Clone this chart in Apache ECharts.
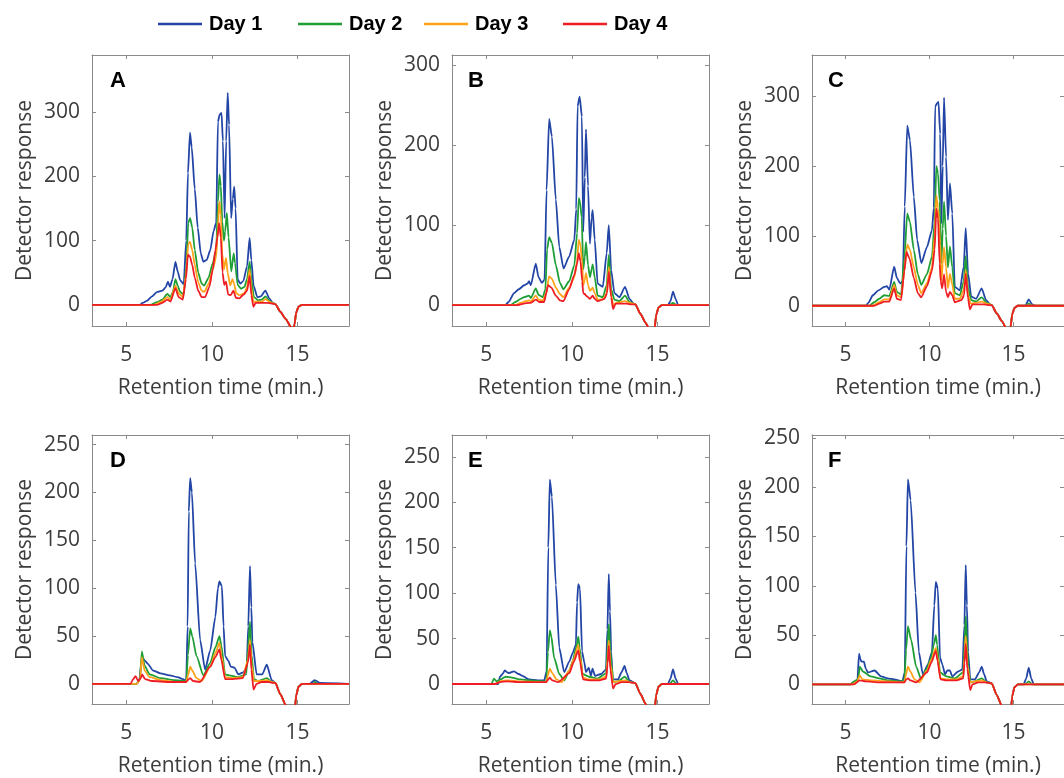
<!DOCTYPE html>
<html>
<head>
<meta charset="utf-8">
<script src="https://cdn.jsdelivr.net/npm/echarts@6/dist/echarts.min.js"></script>
<style>
html,body{margin:0;padding:0;background:#fff;}
#chart{width:1064px;height:778px;}
</style>
</head>
<body>
<div id="chart"></div>
<script>
// ---------------- DATA ----------------
const dayNames = ['Day 1', 'Day 2', 'Day 3', 'Day 4'];
const panelLetters = ['A', 'B', 'C', 'D', 'E', 'F'];
const xTicks = [5, 10, 15];
const yTicksTop = [0, 100, 200, 300];
const yTicksBottom = [0, 50, 100, 150, 200, 250];
const xRange = [3, 18];
const yRanges = [[-33, 389], [-26, 313], [-29, 359], [-21, 260], [-22, 274], [-20, 253]];

// Panel A
const a1 = [[3,0],[5.8,0],[5.95,3],[6.2,6],[6.5,13],[6.8,20],[7.1,22],[7.3,27],[7.43,36],[7.55,28],[7.7,40],[7.87,67],[8.0,52],[8.15,38],[8.35,32],[8.5,100],[8.6,205],[8.72,268],[8.82,245],[9.0,180],[9.17,120],[9.35,80],[9.5,67],[9.7,70],[9.9,85],[10.1,115],[10.25,128],[10.35,285],[10.45,296],[10.56,299],[10.64,255],[10.74,135],[10.83,255],[10.92,330],[11.0,280],[11.12,135],[11.22,165],[11.3,184],[11.38,150],[11.5,40],[11.65,33],[11.83,37],[12.05,60],[12.2,104],[12.3,70],[12.43,30],[12.65,12],[12.85,13],[13.12,22],[13.35,10],[13.55,3],[13.7,1],[14.0,-11],[14.3,-22],[14.6,-34],[14.75,-42],[14.82,-30],[14.92,-12],[15.05,-3],[15.25,0],[18,0]];
const a2 = [[3,0],[6.4,0],[6.8,4],[7.1,8],[7.4,17],[7.58,12],[7.72,20],[7.87,40],[8.0,30],[8.15,20],[8.35,16],[8.5,60],[8.62,128],[8.73,135],[8.85,120],[9.0,85],[9.2,50],[9.4,33],[9.55,30],[9.8,42],[10.05,65],[10.25,85],[10.35,160],[10.44,203],[10.52,185],[10.6,130],[10.7,100],[10.77,114],[10.87,143],[10.97,105],[11.13,52],[11.27,80],[11.35,65],[11.5,31],[11.7,25],[11.9,28],[12.05,40],[12.2,67],[12.3,40],[12.45,12],[12.7,7],[12.9,8],[13.12,13],[13.4,5],[13.6,2],[13.7,1],[14.0,-11],[14.3,-22],[14.6,-34],[14.75,-42],[14.82,-30],[14.92,-12],[15.05,-3],[15.25,0],[18,0]];
const a3 = [[3,0],[6.6,0],[7.0,4],[7.4,12],[7.58,8],[7.87,30],[8.05,18],[8.3,12],[8.48,45],[8.62,95],[8.72,98],[8.85,85],[9.0,62],[9.2,35],[9.4,22],[9.55,20],[9.8,32],[10.05,55],[10.25,75],[10.35,120],[10.43,161],[10.52,140],[10.6,80],[10.7,55],[10.82,73],[10.92,50],[11.06,30],[11.2,40],[11.3,32],[11.42,18],[11.6,15],[11.9,18],[12.05,28],[12.2,55],[12.3,25],[12.42,5],[12.6,5],[12.9,5],[13.12,9],[13.4,4],[13.6,2],[13.7,1],[14.0,-11],[14.3,-22],[14.6,-34],[14.75,-42],[14.82,-30],[14.92,-12],[15.05,-3],[15.25,0],[18,0]];
const a4 = [[3,0],[6.8,0],[7.1,3],[7.4,8],[7.58,5],[7.87,26],[8.05,12],[8.3,8],[8.48,40],[8.6,78],[8.72,75],[8.85,62],[9.0,42],[9.2,22],[9.4,12],[9.6,12],[9.85,28],[10.05,55],[10.2,85],[10.32,105],[10.42,127],[10.52,105],[10.62,50],[10.72,31],[10.82,36],[10.95,16],[11.1,15],[11.25,22],[11.4,11],[11.6,10],[11.85,16],[12.05,22],[12.2,45],[12.3,15],[12.42,-3],[12.55,3],[12.9,3],[13.2,3],[13.5,2],[13.7,1],[14.0,-11],[14.3,-22],[14.6,-34],[14.75,-42],[14.82,-30],[14.92,-12],[15.05,-3],[15.25,0],[18,0]];

// Panel B
const b1 = [[3,0],[6.1,0],[6.3,4],[6.62,15],[6.9,20],[7.21,25],[7.4,27],[7.5,30],[7.6,25],[7.89,52],[8.05,35],[8.25,28],[8.4,32],[8.52,144],[8.67,233],[8.83,211],[9.06,132],[9.26,73],[9.51,46],[9.84,61],[10.14,82],[10.25,120],[10.33,249],[10.45,261],[10.58,236],[10.66,92],[10.75,160],[10.82,220],[10.94,149],[11.05,77],[11.15,110],[11.21,119],[11.33,82],[11.5,27],[11.8,23],[12.03,65],[12.15,100],[12.29,44],[12.48,15],[12.77,10],[13.1,23],[13.36,8],[13.6,2],[13.7,1],[14.0,-11],[14.3,-22],[14.6,-34],[14.75,-42],[14.82,-30],[14.92,-12],[15.05,-3],[15.25,0],[15.6,0],[15.75,5],[15.9,17],[16.05,8],[16.2,0],[18,0]];
const b2 = [[3,0],[6.4,0],[6.7,4],[7.0,8],[7.21,10],[7.5,12],[7.6,9],[7.89,21],[8.05,13],[8.3,10],[8.45,20],[8.55,70],[8.67,85],[8.83,78],[9.06,50],[9.3,28],[9.5,20],[9.84,30],[10.14,50],[10.3,90],[10.4,134],[10.47,130],[10.57,110],[10.66,45],[10.75,60],[10.82,79],[10.94,50],[11.05,35],[11.15,45],[11.21,51],[11.33,35],[11.5,12],[11.8,10],[12.03,25],[12.15,63],[12.29,20],[12.48,7],[12.77,5],[13.1,12],[13.36,4],[13.6,2],[13.7,1],[14.0,-11],[14.3,-22],[14.6,-34],[14.75,-42],[14.82,-30],[14.92,-12],[15.05,-3],[15.25,0],[15.7,0],[15.9,3],[16.1,0],[18,0]];
const b3 = [[3,0],[6.7,0],[7.0,3],[7.3,5],[7.5,6],[7.6,5],[7.89,12],[8.05,7],[8.3,6],[8.5,15],[8.67,36],[8.83,33],[9.06,22],[9.3,14],[9.5,10],[9.84,22],[10.14,35],[10.3,55],[10.4,82],[10.5,75],[10.59,55],[10.66,25],[10.75,32],[10.82,40],[10.94,25],[11.05,18],[11.21,22],[11.33,15],[11.5,7],[11.8,7],[12.03,15],[12.15,48],[12.29,12],[12.42,0],[12.6,3],[13.1,5],[13.4,3],[13.7,1],[14.0,-11],[14.3,-22],[14.6,-34],[14.75,-42],[14.82,-30],[14.92,-12],[15.05,-3],[15.25,0],[18,0]];
const b4 = [[3,0],[6.8,0],[7.2,2],[7.5,3],[7.6,3],[7.89,7],[8.1,4],[8.38,4],[8.5,15],[8.6,25],[8.8,22],[9.06,12],[9.3,6],[9.5,5],[9.84,20],[10.14,38],[10.3,52],[10.4,65],[10.5,55],[10.6,30],[10.66,15],[10.75,14],[10.82,12],[10.94,10],[11.05,8],[11.21,12],[11.33,8],[11.5,5],[11.9,8],[12.05,15],[12.15,42],[12.29,10],[12.4,-5],[12.55,2],[13.2,2],[13.5,1],[13.7,1],[14.0,-11],[14.3,-22],[14.6,-34],[14.75,-42],[14.82,-30],[14.92,-12],[15.05,-3],[15.25,0],[18,0]];

// Panel C
const c1 = [[3,0],[6.2,0],[6.35,4],[6.62,15],[6.95,22],[7.3,27],[7.46,28],[7.6,23],[7.89,56],[8.05,40],[8.25,32],[8.4,35],[8.52,142],[8.67,258],[8.83,237],[9.06,156],[9.26,94],[9.51,61],[9.84,84],[10.14,108],[10.25,140],[10.33,285],[10.45,290],[10.53,292],[10.63,246],[10.7,118],[10.78,200],[10.86,298],[10.98,213],[11.09,123],[11.21,175],[11.35,132],[11.5,27],[11.8,22],[12.03,56],[12.15,111],[12.29,46],[12.48,13],[12.77,10],[13.1,25],[13.36,8],[13.6,2],[13.7,1],[14.0,-11],[14.3,-22],[14.6,-34],[14.75,-42],[14.82,-30],[14.92,-12],[15.05,-3],[15.25,0],[15.7,0],[15.9,9],[16.1,2],[16.3,0],[18,0]];
const c2 = [[3,0],[6.4,0],[6.7,5],[7.0,10],[7.3,15],[7.6,14],[7.89,34],[8.05,20],[8.3,16],[8.5,70],[8.67,132],[8.83,120],[9.06,80],[9.3,45],[9.5,30],[9.84,45],[10.14,70],[10.3,120],[10.4,200],[10.5,190],[10.6,150],[10.7,60],[10.78,110],[10.86,149],[10.98,100],[11.09,55],[11.21,85],[11.35,55],[11.5,18],[11.8,15],[12.03,35],[12.15,71],[12.29,25],[12.48,8],[12.77,6],[13.1,12],[13.4,4],[13.7,1],[14.0,-11],[14.3,-22],[14.6,-34],[14.75,-42],[14.82,-30],[14.92,-12],[15.05,-3],[15.25,0],[15.7,0],[15.9,3],[16.1,0],[18,0]];
const c3 = [[3,0],[6.6,0],[7.0,5],[7.3,9],[7.6,9],[7.89,30],[8.05,15],[8.3,12],[8.5,50],[8.67,88],[8.83,80],[9.06,55],[9.3,30],[9.5,18],[9.84,32],[10.14,55],[10.3,100],[10.4,158],[10.5,140],[10.63,90],[10.7,35],[10.78,60],[10.86,84],[10.98,55],[11.09,25],[11.21,46],[11.35,30],[11.5,10],[11.8,10],[12.03,22],[12.15,51],[12.29,15],[12.45,3],[12.7,4],[13.1,6],[13.4,3],[13.7,1],[14.0,-11],[14.3,-22],[14.6,-34],[14.75,-42],[14.82,-30],[14.92,-12],[15.05,-3],[15.25,0],[18,0]];
const c4 = [[3,0],[6.7,0],[7.0,3],[7.3,6],[7.6,6],[7.89,25],[8.05,10],[8.3,8],[8.5,50],[8.62,77],[8.8,68],[9.06,40],[9.3,18],[9.5,12],[9.84,28],[10.14,50],[10.3,80],[10.4,139],[10.5,125],[10.6,60],[10.66,35],[10.75,25],[10.86,45],[10.98,20],[11.09,12],[11.21,20],[11.35,15],[11.5,5],[11.9,8],[12.05,15],[12.15,46],[12.29,10],[12.4,-5],[12.55,2],[13.2,2],[13.5,1],[13.7,1],[14.0,-11],[14.3,-22],[14.6,-34],[14.75,-42],[14.82,-30],[14.92,-12],[15.05,-3],[15.25,0],[18,0]];

// Panel D
const d1 = [[3,0],[5.6,0],[5.75,3],[5.9,25],[6.0,26],[6.1,24],[6.26,21],[6.56,14],[7.0,11],[7.53,9],[8.0,7],[8.3,5],[8.5,3],[8.58,60],[8.65,180],[8.73,215],[8.83,200],[9.02,126],[9.31,46],[9.6,15],[9.9,35],[10.2,70],[10.35,100],[10.44,107],[10.58,102],[10.68,60],[10.77,29],[10.96,24],[11.1,18],[11.31,17],[11.54,10],[11.83,12],[12.03,17],[12.12,60],[12.22,123],[12.3,80],[12.36,44],[12.61,10],[12.94,10],[13.2,20],[13.49,4],[13.7,1],[14.0,-11],[14.3,-22],[14.6,-34],[14.75,-42],[14.82,-30],[14.92,-12],[15.05,-3],[15.25,0],[15.7,0],[16.0,4],[16.3,1],[18,0]];
const d2 = [[3,0],[5.6,0],[5.8,5],[5.91,34],[6.07,19],[6.36,10],[7.0,6],[7.8,4],[8.5,3],[8.6,30],[8.73,58],[8.85,50],[9.1,29],[9.5,9],[9.9,22],[10.2,38],[10.44,50],[10.55,40],[10.77,10],[11.0,9],[11.5,7],[12.0,10],[12.1,35],[12.22,65],[12.32,30],[12.45,5],[12.7,3],[13.2,6],[13.5,2],[13.7,1],[14.0,-11],[14.3,-22],[14.6,-34],[14.75,-42],[14.82,-30],[14.92,-12],[15.05,-3],[15.25,0],[15.9,0],[16.0,2],[16.2,0],[18,0]];
const d3 = [[3,0],[5.6,0],[5.8,4],[5.91,28],[6.07,14],[6.36,7],[7.0,4],[8.0,2],[8.5,2],[8.62,10],[8.73,18],[8.85,14],[9.1,6],[9.4,3],[9.9,18],[10.2,32],[10.44,43],[10.55,30],[10.77,7],[11.2,6],[11.8,7],[12.1,25],[12.22,46],[12.32,20],[12.45,3],[12.8,3],[13.2,4],[13.5,2],[13.7,1],[14.0,-11],[14.3,-22],[14.6,-34],[14.75,-42],[14.82,-30],[14.92,-12],[15.05,-3],[15.25,0],[18,0]];
const d4 = [[3,0],[5.25,0],[5.4,5],[5.54,8],[5.7,3],[5.85,6],[5.92,10],[6.1,5],[6.5,3],[7.5,2],[8.5,2],[8.65,5],[8.73,6],[8.9,3],[9.3,2],[9.9,18],[10.2,28],[10.44,36],[10.55,25],[10.77,5],[11.2,5],[11.8,6],[12.1,22],[12.22,41],[12.3,15],[12.43,-6],[12.6,0],[12.9,2],[13.3,2],[13.55,1],[13.7,1],[14.0,-11],[14.3,-22],[14.6,-34],[14.75,-42],[14.82,-30],[14.92,-12],[15.05,-3],[15.25,0],[18,0]];

// Panel E
const e1 = [[3,0],[5.7,0],[5.8,8],[5.95,11],[6.09,15],[6.2,13],[6.33,12],[6.62,14],[6.9,11],[7.11,9],[7.5,5],[8.0,4],[8.38,4],[8.52,14],[8.62,150],[8.71,225],[8.83,206],[9.06,109],[9.26,40],[9.55,13],[9.85,25],[10.04,34],[10.23,43],[10.3,90],[10.37,110],[10.47,105],[10.59,36],[10.72,24],[10.82,13],[10.98,18],[11.11,9],[11.2,17],[11.35,9],[11.7,11],[11.99,16],[12.07,60],[12.15,121],[12.22,80],[12.29,36],[12.38,5],[12.68,5],[12.9,13],[13.07,20],[13.2,12],[13.36,4],[13.7,1],[14.0,-11],[14.3,-22],[14.6,-34],[14.75,-42],[14.82,-30],[14.92,-12],[15.05,-3],[15.25,0],[15.6,0],[15.75,6],[15.9,16],[16.05,6],[16.2,0],[18,0]];
const e2 = [[3,0],[5.3,0],[5.45,6],[5.6,3],[5.84,5],[6.13,8],[6.5,7],[7.0,5],[7.5,4],[8.5,3],[8.6,35],[8.71,59],[8.8,52],[8.96,29],[9.26,11],[9.55,4],[9.85,15],[10.04,25],[10.25,40],[10.37,52],[10.45,40],[10.62,11],[11.0,8],[11.5,6],[12.0,12],[12.08,40],[12.15,66],[12.25,35],[12.32,20],[12.42,2],[12.7,3],[13.07,8],[13.4,2],[13.7,1],[14.0,-11],[14.3,-22],[14.6,-34],[14.75,-42],[14.82,-30],[14.92,-12],[15.05,-3],[15.25,0],[15.7,0],[15.9,4],[16.1,0],[18,0]];
const e3 = [[3,0],[5.5,0],[5.8,3],[6.2,4],[7.0,3],[8.0,2],[8.5,2],[8.6,10],[8.71,17],[8.85,12],[9.1,5],[9.4,2],[9.85,15],[10.1,27],[10.37,43],[10.47,30],[10.65,7],[11.0,5],[11.6,5],[12.0,8],[12.08,28],[12.15,48],[12.25,22],[12.4,2],[12.7,3],[13.1,4],[13.4,2],[13.7,1],[14.0,-11],[14.3,-22],[14.6,-34],[14.75,-42],[14.82,-30],[14.92,-12],[15.05,-3],[15.25,0],[18,0]];
const e4 = [[3,0],[5.5,0],[5.8,2],[6.2,3],[7.0,2],[8.0,2],[8.5,2],[8.62,5],[8.71,7],[8.85,4],[9.2,2],[9.85,12],[10.1,24],[10.37,37],[10.47,25],[10.65,5],[11.0,4],[11.6,4],[12.0,6],[12.08,22],[12.15,42],[12.25,15],[12.4,-5],[12.55,0],[12.9,2],[13.3,2],[13.7,1],[14.0,-11],[14.3,-22],[14.6,-34],[14.75,-42],[14.82,-30],[14.92,-12],[15.05,-3],[15.25,0],[18,0]];

// Panel F
const f1 = [[3,0],[5.3,0],[5.45,2],[5.7,3],[5.8,31],[5.87,26],[5.94,23],[6.09,23],[6.2,16],[6.33,12],[6.72,14],[7.11,8],[7.5,6],[7.89,5],[8.38,3],[8.52,12],[8.62,140],[8.71,208],[8.87,187],[9.16,93],[9.36,33],[9.6,10],[9.9,20],[10.14,33],[10.28,80],[10.37,104],[10.49,97],[10.62,27],[10.76,20],[10.92,10],[11.05,14],[11.21,14],[11.35,8],[11.7,13],[11.95,15],[12.07,60],[12.15,121],[12.22,80],[12.29,33],[12.42,5],[12.7,5],[12.95,12],[13.1,18],[13.25,10],[13.4,3],[13.7,1],[14.0,-11],[14.3,-22],[14.6,-34],[14.75,-42],[14.82,-30],[14.92,-12],[15.05,-3],[15.25,0],[15.6,0],[15.75,6],[15.9,17],[16.05,6],[16.2,0],[18,0]];
const f2 = [[3,0],[5.3,0],[5.5,3],[5.75,5],[5.84,18],[6.03,13],[6.5,8],[7.0,6],[7.5,4],[8.3,3],[8.5,5],[8.6,35],[8.71,59],[8.9,45],[9.2,18],[9.5,5],[9.8,15],[10.05,25],[10.25,40],[10.37,50],[10.45,40],[10.62,12],[11.0,8],[11.5,6],[12.0,12],[12.08,40],[12.15,69],[12.25,35],[12.3,18],[12.42,2],[12.7,3],[13.1,6],[13.4,2],[13.7,1],[14.0,-11],[14.3,-22],[14.6,-34],[14.75,-42],[14.82,-30],[14.92,-12],[15.05,-3],[15.25,0],[15.7,0],[15.9,3],[16.1,0],[18,0]];
const f3 = [[3,0],[5.4,0],[5.7,3],[5.84,9],[6.0,5],[6.5,4],[7.5,3],[8.5,2],[8.6,10],[8.71,18],[8.85,13],[9.1,5],[9.4,2],[9.85,14],[10.1,25],[10.37,37],[10.47,28],[10.65,6],[11.0,5],[11.6,5],[12.0,8],[12.08,28],[12.15,49],[12.25,20],[12.4,2],[12.7,3],[13.1,4],[13.4,2],[13.7,1],[14.0,-11],[14.3,-22],[14.6,-34],[14.75,-42],[14.82,-30],[14.92,-12],[15.05,-3],[15.25,0],[18,0]];
const f4 = [[3,0],[5.5,0],[5.84,4],[6.2,3],[7.0,2],[8.0,2],[8.5,2],[8.62,5],[8.71,6],[8.85,4],[9.2,2],[9.85,12],[10.1,22],[10.37,34],[10.47,24],[10.65,5],[11.0,4],[11.6,4],[12.0,6],[12.08,22],[12.15,41],[12.25,15],[12.42,-6],[12.55,0],[12.9,2],[13.3,2],[13.7,1],[14.0,-11],[14.3,-22],[14.6,-34],[14.75,-42],[14.82,-30],[14.92,-12],[15.05,-3],[15.25,0],[18,0]];

const panelData = [[a1,a2,a3,a4],[b1,b2,b3,b4],[c1,c2,c3,c4],[d1,d2,d3,d4],[e1,e2,e3,e4],[f1,f2,f3,f4]];

// ---------------- LAYOUT & STYLE ----------------
const dayColors = ['#2346a6', '#1f9e35', '#ffa21a', '#ee1c24'];
const gridBoxes = [
  {left: 92, top: 55, width: 257, height: 271},
  {left: 452, top: 55, width: 257, height: 271},
  {left: 812, top: 55, width: 257, height: 271},
  {left: 92, top: 435, width: 257, height: 272},
  {left: 452, top: 435, width: 257, height: 272},
  {left: 812, top: 435, width: 257, height: 272}
];
const letterPos = [[110, 70], [468, 70], [828, 70], [110, 450], [468, 450], [828, 450]];
const legendLeft = [158, 298, 424, 563];

const FONT = 'Open Sans';
const axisColor = '#8a8a8a';
const textColor = '#3c3c3c';

const grids = gridBoxes.map(g => ({left: g.left, top: g.top, width: g.width, height: g.height, containLabel: false}));

const xAxes = [];
const yAxes = [];
for (let p = 0; p < 6; p++) {
  const yt = p < 3 ? yTicksTop : yTicksBottom;
  xAxes.push({
    type: 'value', gridIndex: p, position: 'bottom', min: xRange[0], max: xRange[1],
    name: 'Retention time (min.)', nameLocation: 'middle', nameGap: 52,
    nameTextStyle: {fontFamily: FONT, fontSize: 21, color: textColor},
    axisLine: {show: true, onZero: false, lineStyle: {color: axisColor, width: 1}},
    axisTick: {show: true, inside: true, length: 4, customValues: xTicks, lineStyle: {color: axisColor}},
    axisLabel: {show: true, customValues: xTicks, margin: 19, fontFamily: FONT, fontSize: 21, color: textColor},
    splitLine: {show: false}
  });
  yAxes.push({
    type: 'value', gridIndex: p, position: 'left', min: yRanges[p][0], max: yRanges[p][1],
    name: 'Detector response', nameLocation: 'middle', nameGap: 56,
    nameTextStyle: {fontFamily: FONT, fontSize: 21, color: textColor},
    axisLine: {show: true, onZero: false, lineStyle: {color: axisColor, width: 1}},
    axisTick: {show: true, inside: true, length: 4, customValues: yt, lineStyle: {color: axisColor}},
    axisLabel: {show: true, customValues: yt, margin: 12, fontFamily: FONT, fontSize: 21, color: textColor},
    splitLine: {show: false}
  });
}
for (let p = 0; p < 6; p++) {
  const yt = p < 3 ? yTicksTop : yTicksBottom;
  xAxes.push({
    type: 'value', gridIndex: p, position: 'top', min: xRange[0], max: xRange[1],
    axisLine: {show: true, onZero: false, lineStyle: {color: axisColor, width: 1}},
    axisTick: {show: true, inside: true, length: 4, customValues: xTicks, lineStyle: {color: axisColor}},
    axisLabel: {show: false}, splitLine: {show: false}
  });
  yAxes.push({
    type: 'value', gridIndex: p, position: 'right', min: yRanges[p][0], max: yRanges[p][1],
    axisLine: {show: true, onZero: false, lineStyle: {color: axisColor, width: 1}},
    axisTick: {show: true, inside: true, length: 4, customValues: yt, lineStyle: {color: axisColor}},
    axisLabel: {show: false}, splitLine: {show: false}
  });
}

const series = [];
for (let p = 0; p < 6; p++) {
  for (let d = 0; d < 4; d++) {
    series.push({
      type: 'line', name: dayNames[d], xAxisIndex: p, yAxisIndex: p,
      data: panelData[p][d], symbol: 'none', showSymbol: false,
      smooth: 0.2, smoothMonotone: 'x', clip: true, z: 2 + d,
      lineStyle: {color: dayColors[d], width: 1.8},
      itemStyle: {color: dayColors[d]}
    });
  }
}

const legends = dayNames.map((n, i) => ({
  data: [{name: n, icon: 'rect', itemStyle: {color: dayColors[i]}}],
  left: legendLeft[i], top: 14, padding: 0,
  itemWidth: 44, itemHeight: 2.5, selectedMode: false,
  textStyle: {fontFamily: 'Liberation Sans Narrow, Liberation Sans, Arial', fontWeight: 'bold', fontSize: 20, color: '#000', padding: [0, 0, 0, 2]}
}));

const graphics = panelLetters.map((t, i) => ({
  type: 'text', left: letterPos[i][0], top: letterPos[i][1], silent: true,
  style: {text: t, font: 'bold 22px "Liberation Sans", Arial', fill: '#000'}
}));

const chart = echarts.init(document.getElementById('chart'), null, {renderer: 'canvas'});
chart.setOption({
  animation: false,
  backgroundColor: '#fff',
  grid: grids,
  xAxis: xAxes,
  yAxis: yAxes,
  legend: legends,
  graphic: graphics,
  series: series
});
</script>
</body>
</html>
